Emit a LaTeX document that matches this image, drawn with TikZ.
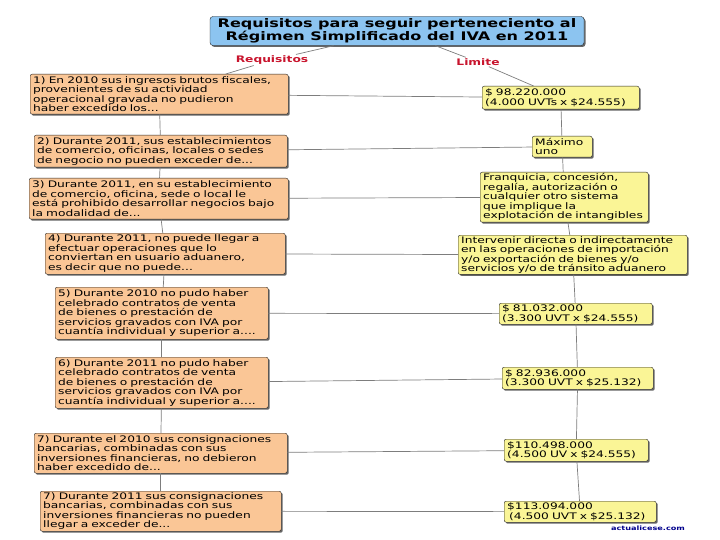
\documentclass[tikz,border=0pt]{standalone}
\usepackage{fontspec}
\setmainfont{DejaVu Sans}[FakeStretch=1.36]
\usetikzlibrary{positioning,shadows}
\definecolor{naranja}{RGB}{250,198,150}
\definecolor{amarillo}{RGB}{250,245,150}
\definecolor{azul}{RGB}{140,196,240}
\definecolor{rojo}{RGB}{200,20,45}
\definecolor{linea}{RGB}{125,125,125}

\begin{document}
\begin{tikzpicture}[
  x=1pt, y=1pt,
  font=\fontsize{9}{9.5}\selectfont,
  caja/.style={draw=black!85, rounded corners=2pt, align=left, anchor=north west,
               inner xsep=3pt, inner ysep=1pt,
               drop shadow={shadow xshift=1.5pt, shadow yshift=-1.5pt, fill=black, opacity=0.6}},
  req/.style={caja, fill=naranja},
  lim/.style={caja, fill=amarillo},
  cabeza/.style={draw=black!85, fill=azul, rounded corners=3pt, align=center,
                 minimum width=374pt, minimum height=29pt, inner sep=1pt,
                 font=\fontsize{11.8}{13}\selectfont\bfseries,
                 drop shadow={shadow xshift=1.5pt, shadow yshift=-1.5pt, fill=black, opacity=0.6}},
  rama/.style={font=\fontsize{9}{10}\selectfont\bfseries, text=rojo, inner sep=1pt},
  con/.style={draw=linea, line width=0.7pt}
]
\useasboundingbox (0,0) rectangle (720,-540);
% --- title and branches -------------------------------------------------
\node[cabeza] (titulo) at (397,-31)
  {Requisitos para seguir perteneciento al\\Régimen Simplificado del IVA en 2011};
\node[rama] (requisitos) at (272,-60) {Requisitos};
\node[rama] (limite) at (478,-62) {Limite};
% --- requisitos (left) --------------------------------------------------
\node[req, text width=252pt, minimum height=40pt] (req1) at (30,-74)
  {1) En 2010 sus ingresos brutos fiscales,\\provenientes de su actividad\\operacional gravada no pudieron\\haber excedido los...};
\node[req, text width=247pt, minimum height=32pt] (req2) at (34,-135)
  {2) Durante 2011, sus establecimientos\\de comercio, oficinas, locales o sedes\\de negocio no pueden exceder de...};
\node[req, text width=253pt, minimum height=41pt] (req3) at (29,-178)
  {3) Durante 2011, en su establecimiento\\de comercio, oficina, sede o local le\\está prohibido desarrollar negocios bajo\\la modalidad de...};
\node[req, text width=234pt, minimum height=41pt] (req4) at (45,-233)
  {4) Durante 2011, no puede llegar a\\efectuar operaciones que lo\\conviertan en usuario aduanero,\\es decir que no puede...};
\node[req, text width=207pt, minimum height=52pt] (req5) at (55,-287)
  {5) Durante 2010 no pudo haber\\celebrado contratos de venta\\de bienes o prestación de\\servicios gravados con IVA por\\cuantía individual y superior a....};
\node[req, text width=207pt, minimum height=51pt] (req6) at (55,-357)
  {6) Durante 2011 no pudo haber\\celebrado contratos de venta\\de bienes o prestación de\\servicios gravados con IVA por\\cuantía individual y superior a....};
\node[req, text width=247pt, minimum height=40pt] (req7) at (34,-433)
  {7) Durante el 2010 sus consignaciones\\bancarias, combinadas con sus\\inversiones financieras, no debieron\\haber excedido de...};
\node[req, text width=235pt, minimum height=40pt] (req8) at (40,-491)
  {7) Durante 2011 sus consignaciones\\bancarias, combinadas con sus\\inversiones financieras no pueden\\llegar a exceder de...};
% --- limites (right) ----------------------------------------------------
\node[lim, text width=151pt, minimum height=23pt] (lim1) at (482,-86)
  {\$ 98.220.000\\(4.000 UVTs x \$24.555)};
\node[lim, text width=54pt, minimum height=21pt] (lim2) at (532,-136)
  {Máximo\\uno};
\node[lim, text width=162pt, minimum height=50pt] (lim3) at (480,-172)
  {Franquicia, concesión,\\regalía, autorización o\\cualquier otro sistema\\que implique la\\explotación de intangibles};
\node[lim, text width=223pt, minimum height=34pt] (lim4) at (458,-235)
  {Intervenir directa o indirectamente\\en las operaciones de importación\\y/o exportación de bienes y/o\\servicios y/o de tránsito aduanero};
\node[lim, text width=147pt, minimum height=21pt] (lim5) at (499,-303)
  {\$ 81.032.000\\(3.300 UVT x \$24.555)};
\node[lim, text width=145pt, minimum height=22pt] (lim6) at (502,-367)
  {\$ 82.936.000\\(3.300 UVT x \$25.132)};
\node[lim, text width=138pt, minimum height=22pt] (lim7) at (504,-439)
  {\$110.498.000\\(4.500 UV x \$24.555)};
\node[lim, text width=146pt, minimum height=21pt] (lim8) at (504,-501)
  {\$113.094.000\\\hspace*{2pt}(4.500 UVT x \$25.132)};
\node[font=\fontsize{6}{7}\selectfont\bfseries, text=blue!55!black] (marca) at (648,-528)
  {actualicese.com};
% --- connectors ---------------------------------------------------------
\draw[con] (titulo) -- (requisitos);
\draw[con] (requisitos) -- (req1);
\draw[con] (titulo) -- (limite);
\draw[con] (limite) -- (lim1);
\foreach \a/\b in {1/2,2/3,3/4,4/5,5/6,6/7,7/8} {
  \draw[con] (req\a) -- (req\b);
  \draw[con] (lim\a) -- (lim\b);
}
\foreach \i in {1,...,8}
  \draw[con] (req\i) -- (lim\i);
\end{tikzpicture}
\end{document}
